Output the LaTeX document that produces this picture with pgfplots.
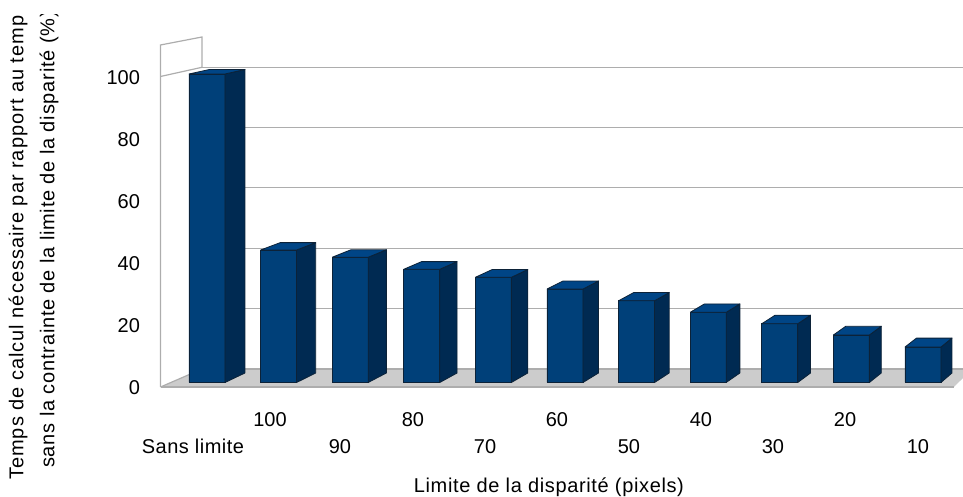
\documentclass[border=0pt]{standalone}
\usepackage{fontspec}
\setmainfont{Liberation Sans}
\newfontfamily\spacedA[LetterSpace=2.5]{Liberation Sans}
\newfontfamily\spacedX[LetterSpace=3.2]{Liberation Sans}
\newfontfamily\spacedB[LetterSpace=4.9]{Liberation Sans}
\newfontfamily\spacedC[LetterSpace=3.9]{Liberation Sans}
\usepackage{pgfplots}
\pgfplotsset{compat=1.18}
\definecolor{barfront}{HTML}{004079}
\definecolor{barside}{HTML}{002A52}
\definecolor{bartop}{HTML}{004586}
\definecolor{baredge}{HTML}{0C2238}
\definecolor{wallgrey}{HTML}{ADADAD}
\definecolor{floorgrey}{HTML}{CCCCCC}
\newcommand\rowA[1]{\rule{0pt}{15pt}#1\\\mbox{}}
\newcommand\rowB[1]{\rule{0pt}{15pt}\\#1}
\begin{document}
\begin{tikzpicture}
\path[use as bounding box] (0,0) rectangle (963pt,497pt);
\begin{axis}[
  at={(160.5pt,110pt)}, anchor=south west,
  scale only axis, width=802.5pt, height=350pt,
  xmin=-0.6494, xmax=10.559, ymin=-1.459, ymax=111.99,
  clip=false,
  axis line style={draw=none},
  tick style={draw=none},
  major tick length=0pt,
  unbounded coords=jump,
  /pgf/number format/assume math mode=true,
  tick label style={font=\fontsize{20}{27}\selectfont},
  ytick={-1.459,18.64,38.74,58.83,78.93,99.03},
  yticklabels={0,20,40,60,80,100},
  yticklabel style={anchor=east, xshift=-17pt, yshift=-1pt},
  xtick={-0.196,0.88,1.857,2.877,3.883,4.888,5.894,6.899,7.905,8.911,9.93},
  xticklabels={{\rowB{\spacedA Sans limite}},{\rowA{100}},{\rowB{90}},{\rowA{80}},{\rowB{70}},{\rowA{60}},{\rowB{50}},{\rowA{40}},{\rowB{30}},{\rowA{20}},{\rowB{10}}},
  xticklabel style={anchor=north, align=center, yshift=-21pt},
  xlabel={\spacedX Limite de la disparité (pixels)},
  every axis x label/.style={at={(axis description cs:0.484,0)}, anchor=center, yshift=-100pt, font=\fontsize{20}{24}\selectfont},
]
% floor
\addplot[fill=floorgrey, draw=none] coordinates {(-0.6494,-1.459)(-0.0698,4.376)(10.559,4.376)(10.559,1.46)(10.433,-1.459)(-0.6494,-1.459)};
\addplot[wallgrey, line width=1.2pt] coordinates {(10.433,-1.459)(-0.6494,-1.459)};
% walls
\addplot[wallgrey, line width=1.2pt] coordinates {(-0.6494,-1.459)(-0.6494,109.4)(-0.0698,111.99)(-0.0698,102.17)};
\addplot[wallgrey, line width=1.2pt] coordinates {(-0.6494,-1.459)(-0.0698,4.376)};
\addplot[wallgrey, line width=1.2pt] coordinates {(-0.6494,99.19)(-0.0698,102.17)};
% back-wall gridlines
\addplot[wallgrey, line width=1.2pt] coordinates {(-0.0698,102.17)(10.559,102.17)(nan,nan)(-0.0698,82.59)(10.559,82.59)(nan,nan)(-0.0698,63.14)(10.559,63.14)(nan,nan)(-0.0698,43.5)(10.559,43.5)(nan,nan)(-0.0698,23.92)(10.559,23.92)(nan,nan)(-0.0698,4.376)(10.559,4.376)};
% front faces
\addplot[ybar, bar width=36pt, fill=barfront, draw=baredge, line width=0.8pt] coordinates {
(0,100)(1,42.95)(2,40.6)(3,36.7)(4,34.1)(5,30.3)(6,26.5)(7,22.75)(8,19.05)(9,15.4)(10,11.5)};
% side faces
\addplot[fill=barside, draw=baredge, line width=0.8pt, line join=round] coordinates {
(0.2514,0)(0.2514,100)(0.5307,101.46)(0.5307,3.08)(0.2514,0)(nan,nan)
(1.2514,0)(1.2514,42.95)(1.5182,45.33)(1.5182,3.08)(1.2514,0)(nan,nan)
(2.2514,0)(2.2514,40.6)(2.5056,43.02)(2.5056,3.08)(2.2514,0)(nan,nan)
(3.2514,0)(3.2514,36.7)(3.4930,39.18)(3.4930,3.08)(3.2514,0)(nan,nan)
(4.2514,0)(4.2514,34.1)(4.4805,36.63)(4.4805,3.08)(4.2514,0)(nan,nan)
(5.2514,0)(5.2514,30.3)(5.4679,32.89)(5.4679,3.08)(5.2514,0)(nan,nan)
(6.2514,0)(6.2514,26.5)(6.4553,29.15)(6.4553,3.08)(6.2514,0)(nan,nan)
(7.2514,0)(7.2514,22.75)(7.4427,25.46)(7.4427,3.08)(7.2514,0)(nan,nan)
(8.2514,0)(8.2514,19.05)(8.4302,21.82)(8.4302,3.08)(8.2514,0)(nan,nan)
(9.2514,0)(9.2514,15.4)(9.4176,18.23)(9.4176,3.08)(9.2514,0)(nan,nan)
(10.2514,0)(10.2514,11.5)(10.4050,14.39)(10.4050,3.08)(10.2514,0)};
% top faces
\addplot[fill=bartop, draw=baredge, line width=0.8pt, line join=round] coordinates {
(-0.2514,100)(0.2514,100)(0.5307,101.46)(0.0349,101.46)(-0.2514,100)(nan,nan)
(0.7486,42.95)(1.2514,42.95)(1.5182,45.33)(1.0224,45.33)(0.7486,42.95)(nan,nan)
(1.7486,40.6)(2.2514,40.6)(2.5056,43.02)(2.0098,43.02)(1.7486,40.6)(nan,nan)
(2.7486,36.7)(3.2514,36.7)(3.4930,39.18)(2.9972,39.18)(2.7486,36.7)(nan,nan)
(3.7486,34.1)(4.2514,34.1)(4.4805,36.63)(3.9847,36.63)(3.7486,34.1)(nan,nan)
(4.7486,30.3)(5.2514,30.3)(5.4679,32.89)(4.9721,32.89)(4.7486,30.3)(nan,nan)
(5.7486,26.5)(6.2514,26.5)(6.4553,29.15)(5.9595,29.15)(5.7486,26.5)(nan,nan)
(6.7486,22.75)(7.2514,22.75)(7.4427,25.46)(6.9469,25.46)(6.7486,22.75)(nan,nan)
(7.7486,19.05)(8.2514,19.05)(8.4302,21.82)(7.9344,21.82)(7.7486,19.05)(nan,nan)
(8.7486,15.4)(9.2514,15.4)(9.4176,18.23)(8.9218,18.23)(8.7486,15.4)(nan,nan)
(9.7486,11.5)(10.2514,11.5)(10.4050,14.39)(9.9092,14.39)(9.7486,11.5)};
\end{axis}
\begin{scope}
\clip (0,0) rectangle (70pt,482pt);
\node[rotate=90, anchor=west, inner sep=0pt, font=\fontsize{20}{24}\selectfont] at (18pt,17pt) {\spacedB Temps de calcul nécessaire par rapport au temps};
\node[rotate=90, anchor=west, inner sep=0pt, font=\fontsize{20}{24}\selectfont] at (49pt,29pt) {\spacedC sans la contrainte de la limite de la disparité (\%)};
\end{scope}
\end{tikzpicture}
\end{document}
